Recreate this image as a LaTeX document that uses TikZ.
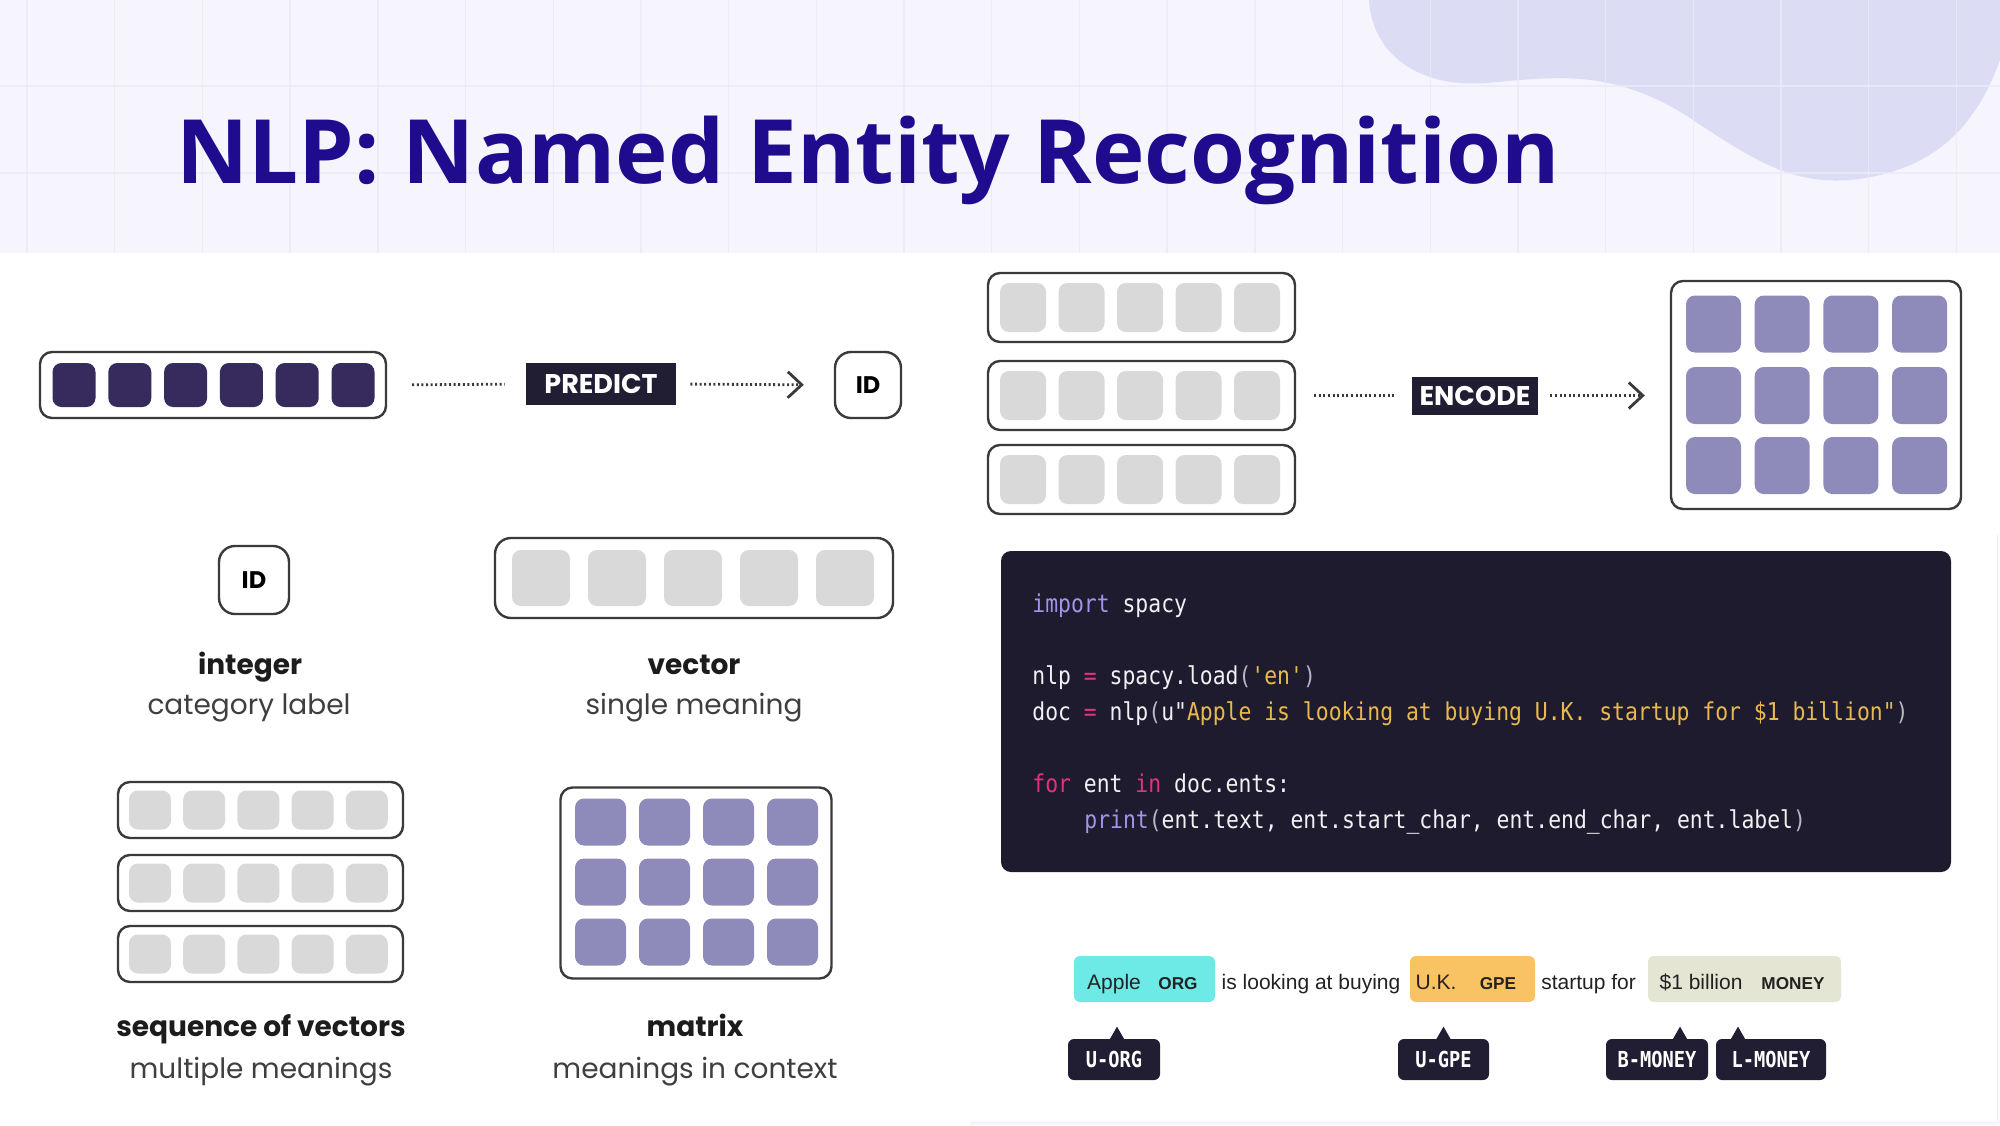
\documentclass[tikz,border=0pt]{standalone}
\usepackage{fontspec}
\setmainfont{Poppins}
\setmonofont[FakeStretch=0.87]{DejaVu Sans Mono}
\newfontfamily\titlefont{Open Sans}
\newfontfamily\entfont{Liberation Sans}
\newfontfamily\tagfont[FakeStretch=0.85]{DejaVu Sans Mono}
\usetikzlibrary{arrows.meta}

\definecolor{bandbg}{HTML}{F6F5FD}
\definecolor{gridc}{HTML}{ECEAF8}
\definecolor{blob}{HTML}{DCDCF5}
\definecolor{titleblue}{HTML}{1E0B8E}
\definecolor{darkcell}{HTML}{362B5C}
\definecolor{graycell}{HTML}{D9D9D9}
\definecolor{purplecell}{HTML}{8E8ABA}
\definecolor{framec}{HTML}{3A3A3A}
\definecolor{tagbg}{HTML}{211D33}
\definecolor{codebg}{HTML}{1F1B2E}
\definecolor{kwpurple}{HTML}{A393EA}
\definecolor{kwpink}{HTML}{E0337D}
\definecolor{strgold}{HTML}{E9B94E}
\definecolor{codefg}{HTML}{F1F1F4}
\definecolor{punct}{HTML}{B9B7C6}
\definecolor{orgc}{HTML}{6DEAE6}
\definecolor{gpec}{HTML}{F9C363}
\definecolor{moneyc}{HTML}{E5E5D3}
\definecolor{labelc}{HTML}{1C1C1C}
\definecolor{subc}{HTML}{3F3F3F}
\definecolor{entc}{HTML}{222222}

\begin{document}
\begin{tikzpicture}[x=0.5pt,y=-0.5pt,
  sz/.style 2 args={minimum width=#1*0.5pt, minimum height=#2*0.5pt},
  frame/.style={draw=framec, line width=1.2pt, rounded corners=6pt, fill=white, inner sep=0pt},
  cell/.style={rounded corners=4.5pt, inner sep=0pt},
  opbox/.style={fill=tagbg, inner sep=0pt, text=white, font=\bfseries\fontsize{13.5}{15}\selectfont},
  dotline/.style={line width=1.4pt, dash pattern=on 1pt off 1.3pt, color=framec},
  chev/.style={-{Straight Barb[length=7pt, width=13pt, line width=1.4pt]}},
  lblbold/.style={text=labelc, font=\bfseries\fontsize{14}{16}\selectfont, inner sep=0pt, anchor=base},
  lblsub/.style={text=subc, font=\fontsize{14}{16}\selectfont, inner sep=0pt, anchor=base},
  codeline/.style={anchor=base west, inner sep=0pt, text=codefg, font=\ttfamily\fontsize{12.3}{14}\selectfont},
  enttext/.style={anchor=base, inner sep=0pt, text=entc, font=\entfont\fontsize{10.5}{12}\selectfont},
  enttag/.style={anchor=base, inner sep=0pt, text=entc, font=\entfont\bfseries\fontsize{8.6}{10}\selectfont},
  entbox/.style={rounded corners=3pt, inner sep=0pt},
  iobtag/.style={fill=tagbg, rounded corners=3pt, inner sep=0pt, text=white, font=\tagfont\bfseries\fontsize{11}{12}\selectfont}
]
\useasboundingbox (0,0) rectangle (2000,1125);

% page background and header band
\fill[white] (0,0) rectangle (2000,1125);
\fill[bandbg] (0,0) rectangle (2000,253);
\fill[bandbg] (970,1121) rectangle (2000,1125);
\draw[gridc, line width=0.5pt] (1997,535) -- (1997,1121);

% decorative blob in the top right corner
\fill[blob] (1369,0) .. controls (1372,55) and (1420,88) .. (1485,83)
  .. controls (1550,78) and (1610,66) .. (1690,118)
  .. controls (1760,165) and (1795,184) .. (1850,180)
  .. controls (1930,172) and (1975,130) .. (2000,60) -- (2000,0) -- cycle;

% faint grid over the band
\foreach \i in {0,...,22}
  \draw[gridc, line width=0.7pt, opacity=0.8] ({27+87.7*\i},0) -- ({27+87.7*\i},253);
\foreach \j in {86,173}
  \draw[gridc, line width=0.9pt, opacity=0.8] (0,\j) -- (2000,\j);

% title
\node[anchor=base west, inner sep=0pt, text=titleblue,
      font=\titlefont\bfseries\fontsize{44.4}{50}\selectfont] (title) at (176,183)
  {NLP: Named Entity Recognition};

% ---------- sequence -> PREDICT -> ID ----------
\node[frame, sz={346}{66}] (tokbar) at (213,385) {};
\foreach \i [count=\k] in {0,...,5}
  \node[cell, fill=darkcell, sz={43}{44}] (dk\k) at ({74+55.8*\i},385) {};
\node[opbox, sz={150}{42}] (predict) at (601,384) {PREDICT};
\node[frame, rounded corners=8pt, sz={66}{66}, font=\bfseries\fontsize{12}{14}\selectfont] (idtop) at (868,385) {ID};
\draw[dotline, shorten <=12.5pt, shorten >=10.5pt] (tokbar.east) -- (predict.west);
\draw[dotline, chev, shorten <=7pt, shorten >=15pt] (predict.east) -- (idtop.west);

% ---------- integer ----------
\node[frame, rounded corners=8pt, sz={70}{68}, font=\bfseries\fontsize{12}{14}\selectfont] (idint) at (254,580) {ID};
\node[lblbold] (lint) at (250,674) {integer};
\node[lblsub] (sint) at (249,714) {category label};

% ---------- vector ----------
\node[frame, rounded corners=8pt, sz={398}{80}] (vec) at (694,578) {};
\foreach \i [count=\k] in {0,...,4}
  \node[cell, fill=graycell, sz={58}{56}] (vc\k) at ({541+76*\i},578) {};
\node[lblbold] (lvec) at (694,674) {vector};
\node[lblsub] (svec) at (694,714) {single meaning};

% ---------- sequence of vectors ----------
\foreach \r/\yy in {1/810,2/883,3/954} {
  \node[frame, sz={285}{56}] (sbar\r) at (260.5,\yy) {};
  \foreach \i [count=\k] in {0,...,4}
    \node[cell, fill=graycell, sz={42}{39}] (sc\r\k) at ({150+54.2*\i},\yy) {};
}
\node[lblbold] (lseq) at (261,1036) {sequence of vectors};
\node[lblsub] (sseq) at (261,1078) {multiple meanings};

% ---------- matrix ----------
\node[frame, sz={271}{191}] (mat) at (696,883) {};
\foreach \r/\yy in {1/822,2/882,3/942}
  \foreach \i [count=\k] in {0,...,3}
    \node[cell, fill=purplecell, sz={51}{47}] (mc\r\k) at ({600.5+64*\i},\yy) {};
\node[lblbold] (lmat) at (695,1036) {matrix};
\node[lblsub] (smat) at (695,1078) {meanings in context};

% ---------- vectors -> ENCODE -> matrix ----------
\foreach \r/\yy in {1/307.5,2/395.5,3/479.5} {
  \node[frame, sz={307}{69}] (rbar\r) at (1141.5,\yy) {};
  \foreach \i [count=\k] in {0,...,4}
    \node[cell, fill=graycell, sz={46}{49}] (rc\r\k) at ({1023+58.5*\i},\yy) {};
}
\node[opbox, sz={126}{38}] (encode) at (1475,395.5) {ENCODE};
\node[frame, sz={290}{228}] (rmat) at (1816,395) {};
\foreach \r/\yy in {1/324,2/395.5,3/465.5}
  \foreach \i [count=\k] in {0,...,3}
    \node[cell, fill=purplecell, sz={55}{57}] (rm\r\k) at ({1713.5+68.7*\i},\yy) {};
\draw[dotline, shorten <=9pt, shorten >=9pt] (rbar2.east) -- (encode.west);
\draw[dotline, chev, shorten <=6pt, shorten >=12.5pt] (encode.east) -- (rmat.west |- encode.east);

% ---------- spaCy code ----------
\node[fill=codebg, rounded corners=5pt, inner sep=0pt, sz={950}{321}] (code) at (1476,711.5) {};
\node[codeline] (c1) at (1032,612) {{\color{kwpurple}import} spacy};
\node[codeline] (c3) at (1032,684) {nlp {\color{kwpink}=} spacy.load{\color{punct}(}{\color{strgold}'en'}{\color{punct})}};
\node[codeline] (c4) at (1032,720) {doc {\color{kwpink}=} nlp{\color{punct}(}u"{\color{strgold}Apple is looking at buying U.K. startup for \$1 billion"}{\color{punct})}};
\node[codeline] (c6) at (1032,792) {{\color{kwpink}for} ent {\color{kwpink}in} doc.ents:};
\node[codeline] (c7) at (1084,828) {{\color{kwpurple}print}{\color{punct}(}ent.text, ent.start\_char, ent.end\_char, ent.label{\color{punct})}};

% ---------- entity annotation ----------
\node[entbox, fill=orgc, sz={141}{46}] (eorg) at (1144.5,979) {};
\node[entbox, fill=gpec, sz={125}{46}] (egpe) at (1472.5,979) {};
\node[entbox, fill=moneyc, sz={193}{46}] (emoney) at (1744.5,979) {};
\node[enttext] (wapple) at (1114,989) {Apple};
\node[enttag] (torg) at (1178,989) {ORG};
\node[enttext] (wmid) at (1311,989) {is looking at buying};
\node[enttext] (wuk) at (1436,989) {U.K.};
\node[enttag] (tgpe) at (1498,989) {GPE};
\node[enttext] (wstart) at (1588.5,989) {startup for};
\node[enttext] (wbil) at (1701,989) {\$1 billion};
\node[enttag] (tmoney) at (1793,989) {MONEY};

% BILUO tags with pointers
\node[iobtag, sz={92}{41}] (uorg) at (1114,1059.5) {U-ORG};
\node[iobtag, sz={91}{41}] (ugpe) at (1443.5,1059.5) {U-GPE};
\node[iobtag, sz={102}{41}] (bmoney) at (1657,1059.5) {B-MONEY};
\node[iobtag, sz={110}{41}] (lmoney) at (1771,1059.5) {L-MONEY};
\foreach \t/\dx in {uorg/1.5pt, ugpe/0pt, bmoney/11.5pt, lmoney/-16.5pt}
  \fill[tagbg] ([xshift=\dx-4pt, yshift=-1pt]\t.north) -- ++(4pt,7pt) -- ++(4pt,-7pt) -- cycle;
\end{tikzpicture}
\end{document}
